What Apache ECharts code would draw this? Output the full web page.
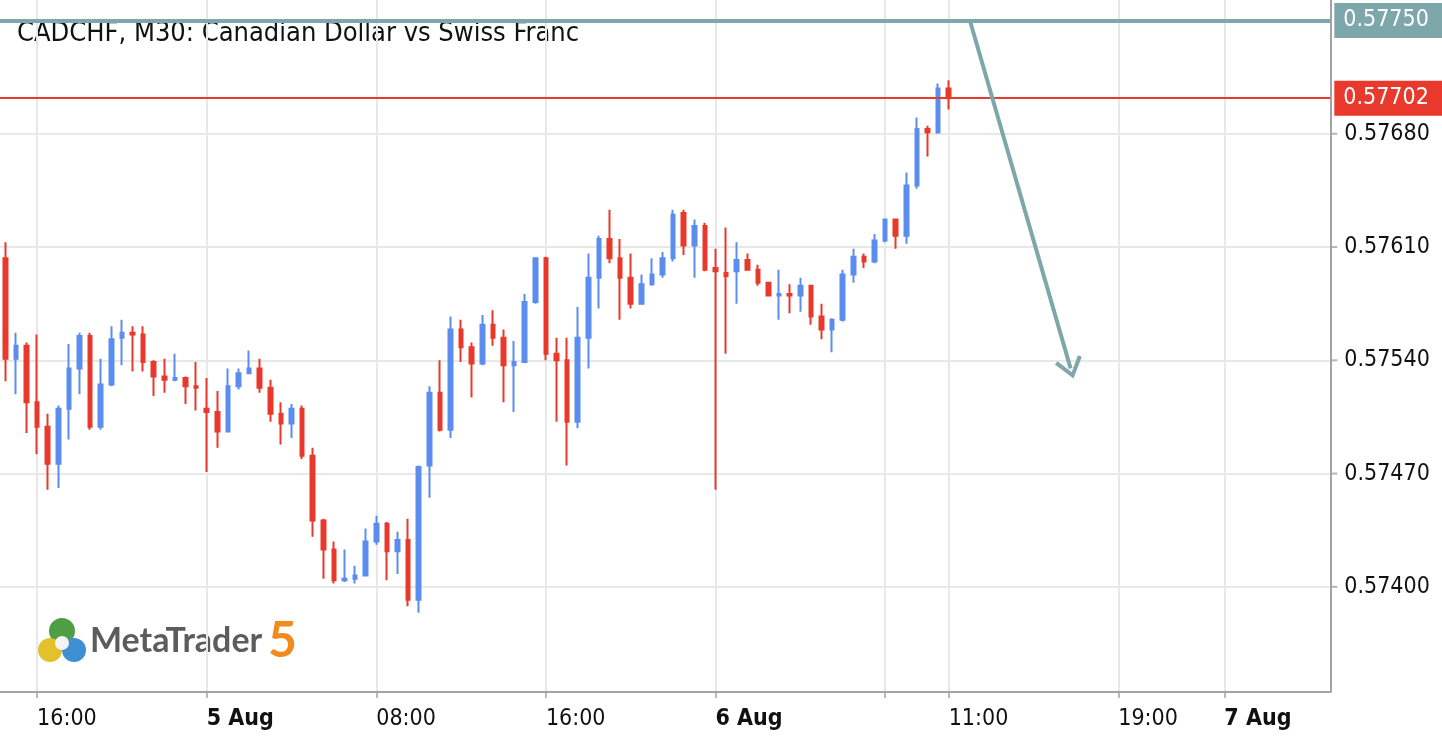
<!DOCTYPE html>
<html>
<head>
<meta charset="utf-8">
<script src="https://cdn.jsdelivr.net/npm/echarts@6/dist/echarts.min.js"></script>
<style>
html, body { margin: 0; padding: 0; background: #ffffff; }
#chart { width: 1442px; height: 740px; }
</style>
</head>
<body>
<div id="chart"></div>
<script>
// ---------------- DATA ----------------
const titleText = 'CADCHF, M30: Canadian Dollar vs Swiss Franc';
// time axis as 15-minute slots starting 4 Aug 14:15 (candles are 30-minute bars)
const slotStartUTC = [2025, 7, 4, 14, 15];
const slotMinutes = 15;
const slotCount = 252;
const firstCandleUTC = [2025, 7, 4, 14, 30];
const candleMinutes = 30;

const open = [
0.57603,0.57541,0.57549,0.57514,0.57499,0.57476,0.57510,0.57535,0.57555,0.57499,
0.57525,0.57554,0.57557,0.57556,0.57539,0.57530,0.57528,0.57529,0.57524,0.57510,
0.57508,0.57496,0.57524,0.57532,0.57535,0.57523,0.57507,0.57501,0.57510,0.57481,
0.57441,0.57423,0.57404,0.57405,0.57407,0.57428,0.57439,0.57422,0.57429,0.57392,
0.57475,0.57520,0.57497,0.57559,0.57548,0.57538,0.57562,0.57554,0.57537,0.57539,
0.57576,0.57603,0.57544,0.57540,0.57502,0.57554,0.57591,0.57615,0.57603,0.57591,
0.57575,0.57587,0.57593,0.57603,0.57631,0.57611,0.57623,0.57597,0.57594,0.57595,
0.57602,0.57596,0.57588,0.57580,0.57581,0.57580,0.57586,0.57567,0.57559,0.57565,
0.57593,0.57604,0.57601,0.57614,0.57627,0.57617,0.57648,0.57683,0.57681,0.57708];
const high = [
0.57613,0.57557,0.57551,0.57556,0.57507,0.57512,0.57550,0.57557,0.57557,0.57541,
0.57561,0.57565,0.57561,0.57561,0.57540,0.57541,0.57544,0.57530,0.57539,0.57529,
0.57521,0.57535,0.57535,0.57546,0.57541,0.57528,0.57514,0.57513,0.57512,0.57486,
0.57442,0.57428,0.57423,0.57413,0.57436,0.57444,0.57440,0.57434,0.57442,0.57475,
0.57524,0.57540,0.57567,0.57565,0.57551,0.57568,0.57571,0.57559,0.57552,0.57581,
0.57603,0.57604,0.57554,0.57554,0.57573,0.57606,0.57617,0.57633,0.57615,0.57606,
0.57593,0.57603,0.57607,0.57633,0.57633,0.57627,0.57625,0.57609,0.57622,0.57613,
0.57606,0.57599,0.57588,0.57596,0.57587,0.57591,0.57586,0.57575,0.57566,0.57596,
0.57609,0.57606,0.57618,0.57627,0.57627,0.57656,0.57690,0.57685,0.57711,0.57713];
const low = [
0.57527,0.57519,0.57495,0.57482,0.57460,0.57461,0.57491,0.57519,0.57497,0.57497,
0.57524,0.57537,0.57533,0.57533,0.57518,0.57520,0.57527,0.57513,0.57509,0.57471,
0.57486,0.57496,0.57522,0.57532,0.57520,0.57502,0.57488,0.57492,0.57479,0.57431,
0.57405,0.57402,0.57403,0.57402,0.57407,0.57426,0.57404,0.57408,0.57388,0.57384,
0.57455,0.57496,0.57492,0.57539,0.57517,0.57537,0.57549,0.57514,0.57508,0.57539,
0.57575,0.57540,0.57502,0.57475,0.57498,0.57535,0.57572,0.57600,0.57565,0.57572,
0.57575,0.57586,0.57591,0.57601,0.57605,0.57591,0.57595,0.57460,0.57544,0.57575,
0.57596,0.57586,0.57580,0.57565,0.57569,0.57570,0.57562,0.57553,0.57545,0.57564,
0.57588,0.57597,0.57600,0.57613,0.57609,0.57612,0.57646,0.57666,0.57680,0.57695];
const close = [
0.57541,0.57549,0.57514,0.57499,0.57476,0.57510,0.57535,0.57555,0.57499,0.57525,
0.57553,0.57557,0.57556,0.57539,0.57530,0.57528,0.57529,0.57524,0.57523,0.57508,
0.57496,0.57524,0.57532,0.57535,0.57523,0.57507,0.57501,0.57510,0.57481,0.57441,
0.57423,0.57404,0.57405,0.57407,0.57428,0.57439,0.57422,0.57429,0.57392,0.57474,
0.57520,0.57497,0.57559,0.57548,0.57538,0.57562,0.57554,0.57537,0.57539,0.57576,
0.57603,0.57544,0.57540,0.57502,0.57554,0.57591,0.57615,0.57603,0.57591,0.57575,
0.57587,0.57593,0.57603,0.57630,0.57611,0.57623,0.57596,0.57595,0.57592,0.57602,
0.57596,0.57588,0.57580,0.57581,0.57580,0.57586,0.57567,0.57559,0.57565,0.57593,
0.57604,0.57601,0.57614,0.57627,0.57617,0.57648,0.57683,0.57681,0.57708,0.57702];

const xTickCats   = ['4 Aug 16:00','5 Aug 00:00','5 Aug 08:00','5 Aug 16:00','6 Aug 00:00','6 Aug 08:00','6 Aug 11:00','6 Aug 19:00','7 Aug 00:00'];
const xTickLabels = ['16:00','5 Aug','08:00','16:00','6 Aug','','11:00','19:00','7 Aug'];
const xBoldLabels = ['5 Aug','6 Aug','7 Aug'];
const yTickLabels = ['0.57400','0.57470','0.57540','0.57610','0.57680'];
const yMin = 0.57335, yMax = 0.5776267, yStep = 0.00005, yLabelStep = 0.0007;

const levelPrice = 0.57750;   // horizontal level
const bidPrice = 0.57702;     // current price line
const arrowFrom = ['6 Aug 12:00', 0.57750];
const arrowTo   = ['6 Aug 16:45', 0.57535];

// ---------------- BUILD ----------------
function pad(n) { return String(n).padStart(2, '0'); }
function fmt(ms) { const d = new Date(ms); return d.getUTCDate() + ' Aug ' + pad(d.getUTCHours()) + ':' + pad(d.getUTCMinutes()); }
const categories = [];
const s0 = Date.UTC.apply(null, slotStartUTC);
for (let i = 0; i < slotCount; i++) categories.push(fmt(s0 + i * slotMinutes * 60000));
const c0 = Date.UTC.apply(null, firstCandleUTC);
const candles = open.map((o, i) => [fmt(c0 + i * candleMinutes * 60000), o, close[i], low[i], high[i]]);
const firstCat = categories[0], lastCat = categories[categories.length - 1];
const yTickValues = yTickLabels.map(Number);
const yTickMarks = yTickValues.map(v => [lastCat, v]);

function fontAvailable(name) {
  const ctx = document.createElement('canvas').getContext('2d');
  const s = '0.57680 CADCHF Mlw 16:00';
  ctx.font = '40px monospace';
  const a = ctx.measureText(s).width;
  ctx.font = '40px "' + name + '", monospace';
  const b = ctx.measureText(s).width;
  return a !== b;
}
const condensed = fontAvailable('DejaVu Sans Condensed');
const FONT = condensed ? "'DejaVu Sans Condensed', 'DejaVu Sans', sans-serif" : "'DejaVu Sans', sans-serif";
const labelSize = condensed ? 23 : 21;
const titleSize = condensed ? 27 : 24;

const upColor = '#5b8def', downColor = '#e8392c', teal = '#7ea7ab';
const gridColor = '#e8e8e8', axisColor = '#a3a3a3', textColor = '#111111';

const cycle = Math.round(yLabelStep / yStep);
const firstLabelIdx = Math.round((yTickValues[0] - yMin) / yStep) % cycle;
const ySplitColors = Array.from({ length: cycle }, (_, k) => k === firstLabelIdx ? gridColor : 'rgba(0,0,0,0)');

function priceLabel(bg, txt) {
  return {
    show: true, position: 'end', distance: 4, formatter: txt,
    color: '#ffffff', backgroundColor: bg, fontFamily: FONT, fontSize: labelSize,
    lineHeight: 25, padding: [5, 16, 5, 9]
  };
}
function hLine(price, color, width) {
  const ls = { color: color, width: width, type: 'solid' };
  return [
    { coord: [firstCat, price], symbol: 'none', lineStyle: ls, label: priceLabel(color, price.toFixed(5)) },
    { coord: [lastCat, price], symbol: 'none', lineStyle: ls, label: priceLabel(color, price.toFixed(5)) }
  ];
}
const chevron = 'path://M0,19 L14,0 L28,19 L24.6,21.4 L14,6.6 L3.4,21.4 Z';

const chart = echarts.init(document.getElementById('chart'), null, { renderer: 'canvas' });
chart.setOption({
  animation: false,
  backgroundColor: '#ffffff',
  grid: { left: 0, right: 111.7, top: 0, bottom: 48, containLabel: false },
  xAxis: {
    type: 'category', data: categories, boundaryGap: false,
    axisLine: { show: true, lineStyle: { color: axisColor, width: 2 } },
    axisTick: { show: true, length: 6, lineStyle: { color: axisColor, width: 1.5 },
      interval: (i, v) => xTickCats.indexOf(v) >= 0 },
    splitLine: { show: true, lineStyle: { color: gridColor, width: 2 },
      interval: (i, v) => xTickCats.indexOf(v) >= 0 },
    axisLabel: {
      interval: (i, v) => { const k = xTickCats.indexOf(v); return k >= 0 && xTickLabels[k] !== ''; },
      formatter: (v) => {
        const k = xTickCats.indexOf(v);
        if (k < 0) return '';
        const s = xTickLabels[k];
        return xBoldLabels.indexOf(s) >= 0 ? '{b|' + s + '}' : '{n|' + s + '}';
      },
      align: 'left', margin: 15,
      rich: {
        n: { fontFamily: FONT, fontSize: labelSize, lineHeight: 24, color: textColor },
        b: { fontFamily: FONT, fontSize: labelSize, lineHeight: 24, color: textColor, fontWeight: 'bold' }
      }
    }
  },
  yAxis: {
    type: 'value', position: 'right', min: yMin, max: yMax, interval: yStep,
    axisLine: { show: true, lineStyle: { color: axisColor, width: 2 } },
    axisTick: { show: false },
    splitLine: { show: true, lineStyle: { color: ySplitColors, width: 2 } },
    axisLabel: {
      margin: 14, fontFamily: FONT, fontSize: labelSize, color: textColor,
      formatter: (v) => {
        const s = v.toFixed(5);
        return yTickLabels.indexOf(s) >= 0 ? s : '';
      }
    }
  },
  series: [{
    type: 'candlestick',
    data: candles,
    encode: { x: 0, y: [1, 2, 3, 4] },
    barWidth: 4,
    itemStyle: { color: upColor, color0: downColor, borderColor: upColor, borderColor0: downColor, borderWidth: 2 },
    markLine: {
      silent: true, animation: false, symbol: ['none', 'none'],
      data: [
        hLine(levelPrice, teal, 4),
        hLine(bidPrice, downColor, 2),
        [
          { coord: arrowFrom, symbol: 'none', lineStyle: { color: teal, width: 4, type: 'solid' }, label: { show: false } },
          { coord: arrowTo, symbol: chevron, symbolSize: [28, 21], lineStyle: { color: teal, width: 4, type: 'solid' }, label: { show: false } }
        ]
      ]
    }
  }, {
    // small outward tick marks on the right price axis
    type: 'scatter', data: yTickMarks, clip: false, silent: true,
    symbol: 'rect', symbolSize: [6, 2], symbolOffset: [4, 0],
    itemStyle: { color: axisColor }, z: 5
  }],
  graphic: [
    { type: 'text', x: 17, y: 34, style: { text: titleText, font: titleSize + 'px ' + FONT, fill: textColor, verticalAlign: 'middle', align: 'left' } },
    { type: 'circle', shape: { cx: 62, cy: 631, r: 13 }, style: { fill: '#4f9d45' } },
    { type: 'circle', shape: { cx: 50, cy: 650, r: 12 }, style: { fill: '#e3c12b' } },
    { type: 'circle', shape: { cx: 74, cy: 650, r: 12 }, style: { fill: '#3f8fd4' } },
    { type: 'circle', shape: { cx: 62, cy: 643, r: 7 }, style: { fill: '#f4f4f4' } },
    { type: 'text', x: 90, y: 641, style: { text: 'MetaTrader', font: 'bold 34px Lato, sans-serif', fill: '#5c5c5c', verticalAlign: 'middle', align: 'left' } },
    { type: 'text', x: 268, y: 641, style: { text: '5', font: 'bold 50px Lato, sans-serif', fill: '#f28a1e', verticalAlign: 'middle', align: 'left' } }
  ]
});
</script>
</body>
</html>
